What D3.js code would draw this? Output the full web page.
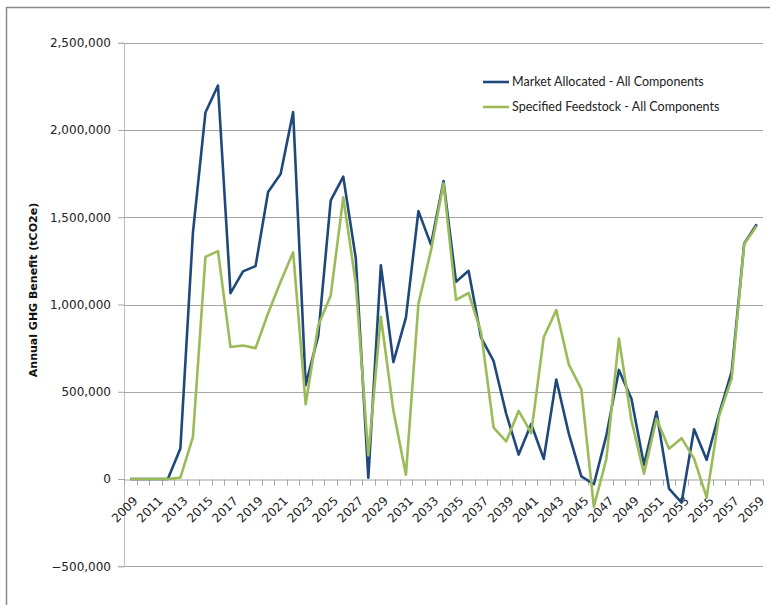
<!DOCTYPE html>
<html>
<head>
<meta charset="utf-8">
<script src="https://cdn.jsdelivr.net/npm/d3@7"></script>
<style>
  html, body { margin: 0; padding: 0; background: #fff; }
  svg { display: block; }
</style>
</head>
<body>
<svg id="chart" width="770" height="605"></svg>
<script>
// Annual GHG benefit (tCO2e) by year, two allocation approaches
const years = d3.range(2009, 2060);

const marketAllocated = [
  0, 0, 0, 0, 175000,
  1410000, 2100000, 2255000, 1065000, 1190000,
  1220000, 1645000, 1748000, 2103000, 538000,
  820000, 1597000, 1733000, 1265000, 8000,
  1225000, 670000, 925000, 1535000, 1343000,
  1707000, 1130000, 1193000, 810000, 675000,
  375000, 140000, 315000, 115000, 570000,
  260000, 15000, -30000, 250000, 625000,
  460000, 80000, 385000, -55000, -135000,
  285000, 110000, 375000, 615000, 1350000,
  1460000
];

const specifiedFeedstock = [
  0, 0, 0, 0, 8000,
  240000, 1273000, 1306000, 756000, 765000,
  750000, 950000, 1130000, 1300000, 428000,
  880000, 1052000, 1614000, 1120000, 135000,
  930000, 392000, 24000, 1005000, 1310000,
  1695000, 1027000, 1066000, 840000, 295000,
  215000, 390000, 263000, 812000, 968000,
  657000, 515000, -160000, 116000, 805000,
  335000, 30000, 345000, 174000, 234000,
  117000, -105000, 362000, 576000, 1347000,
  1450000
];

const seriesNames = ["Market Allocated - All Components", "Specified Feedstock - All Components"];
const seriesColors = ["#1F497D", "#9BBB59"];
const yTicks = [-500000, 0, 500000, 1000000, 1500000, 2000000, 2500000];
const yTitle = "Annual GHG Benefit (tCO2e)";

const svg = d3.select("#chart");

// outer chart frame
svg.append("path")
  .attr("d", "M6.5,610 L6.5,7.5 L775,7.5")
  .attr("fill", "none")
  .attr("stroke", "#8a8a8a")
  .attr("stroke-width", 1.5);

const plot = { left: 124, right: 763, top: 42.75, bottom: 566.25 };

const x = d3.scaleBand().domain(years).range([plot.left, plot.right]).padding(0);
const y = d3.scaleLinear().domain([-500000, 2500000]).range([plot.bottom, plot.top]);
const cx = yr => x(yr) + x.bandwidth() / 2;

// horizontal gridlines + y axis
const yAxis = d3.axisLeft(y)
  .tickValues(yTicks)
  .tickSize(6)
  .tickPadding(7)
  .tickFormat(d3.format(",.0f"));

const gy = svg.append("g")
  .attr("transform", `translate(${plot.left},0)`)
  .call(yAxis);
gy.select(".domain").attr("stroke", "#bfbfbf");
gy.selectAll(".tick line").attr("stroke", "#a6a6a6");
gy.selectAll(".tick text")
  .attr("font-family", "DejaVu Sans, Verdana, sans-serif")
  .attr("font-size", 12)
  .attr("fill", "#222");

svg.append("g").selectAll("line")
  .data(yTicks.filter(d => d !== 0))
  .join("line")
  .attr("x1", plot.left).attr("x2", plot.right)
  .attr("y1", d => Math.round(y(d)) + 0.5).attr("y2", d => Math.round(y(d)) + 0.5)
  .attr("stroke", "#a6a6a6");

// category axis at zero
const xAxis = d3.axisBottom(x)
  .tickValues(years.filter((d, i) => i % 2 === 0))
  .tickSize(0)
  .tickFormat(d3.format("d"));

const gx = svg.append("g")
  .attr("transform", `translate(0,${Math.round(y(0)) + 0.5})`)
  .call(xAxis);
gx.select(".domain").attr("stroke", "#a6a6a6");
gx.selectAll(".tick text")
  .attr("font-family", "DejaVu Sans, Verdana, sans-serif")
  .attr("font-size", 12)
  .attr("fill", "#222")
  .attr("text-anchor", "end")
  .attr("dy", "0.35em")
  .attr("transform", "translate(3,17) rotate(-45)");

// tick marks between categories
const bounds = years.map(yr => x(yr)).concat([plot.right]);
gx.append("g").selectAll("line")
  .data(bounds)
  .join("line")
  .attr("x1", d => Math.round(d) + 0.5).attr("x2", d => Math.round(d) + 0.5)
  .attr("y1", 0).attr("y2", 6)
  .attr("stroke", "#a6a6a6");

// y axis title
svg.append("text")
  .attr("transform", `translate(37,290) rotate(-90)`)
  .attr("text-anchor", "middle")
  .attr("font-family", "DejaVu Sans, Verdana, sans-serif")
  .attr("font-size", 11)
  .attr("font-weight", "bold")
  .attr("fill", "#111")
  .text(yTitle);

// series lines
const line = d3.line()
  .x((d, i) => cx(years[i]))
  .y(d => y(d));

[marketAllocated, specifiedFeedstock].forEach((vals, k) => {
  svg.append("path")
    .datum(vals)
    .attr("d", line)
    .attr("fill", "none")
    .attr("stroke", seriesColors[k])
    .attr("stroke-width", 2.6)
    .attr("stroke-linejoin", "round");
});

// legend
const legend = svg.append("g").attr("transform", "translate(483,82)");
seriesNames.forEach((name, k) => {
  const g = legend.append("g").attr("transform", `translate(0,${k * 25})`);
  g.append("line")
    .attr("x1", 0).attr("x2", 26)
    .attr("y1", 0).attr("y2", 0)
    .attr("stroke", seriesColors[k])
    .attr("stroke-width", 2.6);
  g.append("text")
    .attr("x", 29)
    .attr("y", 0)
    .attr("dy", "0.35em")
    .attr("font-family", "Lato, Calibri, sans-serif")
    .attr("font-size", 12.5)
    .attr("fill", "#222")
    .text(name);
});
</script>
</body>
</html>
